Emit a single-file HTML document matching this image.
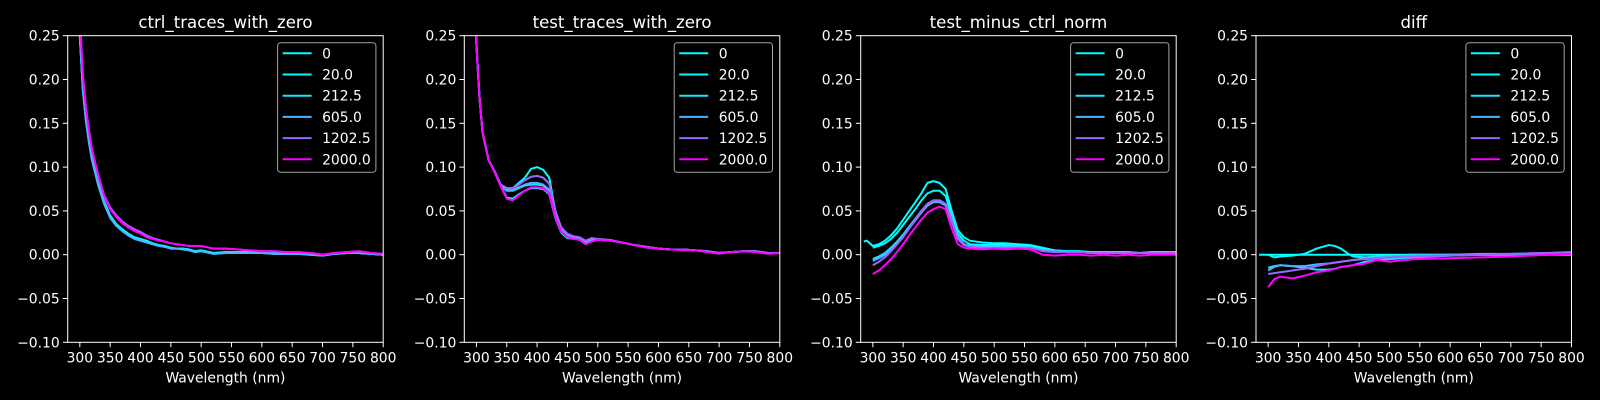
<!DOCTYPE html>
<html><head><meta charset="utf-8"><style>
html,body{margin:0;padding:0;background:#000;}
svg{display:block;font-family:"DejaVu Sans","Liberation Sans",sans-serif;}
</style></head><body>
<svg id="fig" width="1600" height="400" viewBox="0 0 1600 400" xmlns="http://www.w3.org/2000/svg">
<rect width="1600" height="400" fill="#000"/>
</svg>
<script>
const seriesLabels = ["0","20.0","212.5","605.0","1202.5","2000.0"];
const seriesColors = ["#00ffff","#03fcff","#1be4ff","#4db2ff","#9966ff","#ff00ff"];
const panelTitles = ["ctrl_traces_with_zero","test_traces_with_zero","test_minus_ctrl_norm","diff"];
const xTicks = [300,350,400,450,500,550,600,650,700,750,800];
const yTicks = [-0.10,-0.05,0.00,0.05,0.10,0.15,0.20,0.25];

const p1W = [295,300,305,310,315,320,330,340,350,360,370,380,390,400,410,420,430,440,450,460,470,480,490,500,520,540,560,580,600,620,640,660,680,700,720,740,760,780,800];
const p1S0 = [0.36,0.25,0.19,0.155,0.13,0.11,0.082,0.06,0.044,0.034,0.028,0.023,0.019,0.017,0.015,0.013,0.011,0.009,0.008,0.007,0.007,0.006,0.004,0.005,0.002,0.003,0.003,0.003,0.002,0.002,0.002,0.001,0.001,0.000,0.001,0.002,0.002,0.001,0.000];
const p1S1 = [0.36,0.25,0.19,0.156,0.131,0.111,0.083,0.061,0.045,0.035,0.029,0.024,0.020,0.018,0.016,0.013,0.011,0.010,0.008,0.007,0.007,0.006,0.004,0.005,0.002,0.003,0.003,0.003,0.002,0.002,0.002,0.001,0.001,0.000,0.001,0.002,0.002,0.001,0.000];
const p1S2 = [0.36,0.25,0.188,0.153,0.128,0.108,0.080,0.058,0.042,0.033,0.027,0.022,0.018,0.016,0.014,0.012,0.010,0.009,0.007,0.007,0.006,0.005,0.003,0.004,0.001,0.002,0.002,0.002,0.002,0.001,0.001,0.001,0.000,-0.001,0.001,0.002,0.002,0.001,0.000];
const p1S3 = [0.36,0.25,0.188,0.153,0.129,0.109,0.081,0.059,0.043,0.033,0.027,0.022,0.018,0.016,0.014,0.012,0.010,0.009,0.007,0.007,0.006,0.005,0.003,0.004,0.001,0.002,0.002,0.002,0.002,0.001,0.001,0.001,0.000,-0.001,0.001,0.002,0.002,0.001,0.000];
const p1S4 = [0.38,0.27,0.205,0.168,0.142,0.12,0.092,0.068,0.054,0.045,0.038,0.033,0.029,0.026,0.022,0.019,0.017,0.015,0.013,0.012,0.011,0.010,0.010,0.010,0.007,0.007,0.006,0.005,0.004,0.004,0.003,0.003,0.002,0.000,0.002,0.003,0.004,0.002,0.001];
const p1S5 = [0.38,0.27,0.205,0.168,0.142,0.12,0.091,0.067,0.052,0.043,0.036,0.031,0.027,0.024,0.020,0.018,0.016,0.015,0.013,0.012,0.011,0.010,0.010,0.010,0.007,0.007,0.006,0.005,0.004,0.004,0.003,0.003,0.002,0.000,0.002,0.003,0.004,0.002,0.001];

const p2W = [295,300,305,310,320,330,340,350,360,370,380,390,400,410,420,430,440,450,460,470,480,490,500,520,540,560,580,600,620,640,660,680,700,720,740,760,780,800];
const p2S0 = [0.36,0.24,0.18,0.14,0.108,0.095,0.080,0.076,0.076,0.082,0.088,0.098,0.100,0.097,0.088,0.050,0.030,0.022,0.019,0.017,0.012,0.016,0.017,0.016,0.014,0.011,0.009,0.007,0.006,0.006,0.005,0.004,0.002,0.003,0.004,0.004,0.002,0.002];
const p2S1 = [0.36,0.24,0.18,0.14,0.108,0.095,0.079,0.065,0.064,0.069,0.073,0.076,0.076,0.075,0.069,0.042,0.025,0.019,0.018,0.017,0.012,0.016,0.017,0.016,0.014,0.011,0.009,0.007,0.006,0.006,0.005,0.004,0.002,0.003,0.004,0.004,0.002,0.002];
const p2S2 = [0.36,0.24,0.18,0.14,0.108,0.095,0.080,0.073,0.073,0.076,0.079,0.080,0.080,0.079,0.073,0.046,0.028,0.021,0.019,0.018,0.014,0.017,0.018,0.016,0.014,0.011,0.009,0.007,0.006,0.006,0.005,0.004,0.002,0.003,0.004,0.004,0.002,0.002];
const p2S3 = [0.36,0.24,0.18,0.14,0.108,0.095,0.080,0.074,0.074,0.077,0.080,0.082,0.082,0.080,0.074,0.047,0.029,0.022,0.020,0.019,0.015,0.018,0.018,0.016,0.014,0.011,0.009,0.007,0.006,0.006,0.005,0.004,0.002,0.003,0.004,0.004,0.002,0.002];
const p2S4 = [0.36,0.24,0.18,0.14,0.108,0.095,0.080,0.076,0.076,0.080,0.085,0.089,0.090,0.088,0.081,0.050,0.031,0.024,0.021,0.020,0.016,0.019,0.018,0.017,0.014,0.011,0.009,0.007,0.006,0.006,0.005,0.004,0.002,0.003,0.004,0.004,0.002,0.002];
const p2S5 = [0.36,0.24,0.18,0.14,0.108,0.094,0.078,0.064,0.062,0.068,0.073,0.077,0.077,0.076,0.070,0.043,0.026,0.020,0.018,0.017,0.012,0.015,0.017,0.016,0.014,0.011,0.008,0.007,0.006,0.005,0.005,0.003,0.001,0.003,0.004,0.003,0.001,0.002];

const p3W = [285,290,300,310,320,330,340,350,360,370,380,390,400,410,420,430,440,450,460,480,500,520,540,560,580,600,620,640,660,680,700,720,740,760,780,800];
const p3S0 = [0.015,0.016,0.010,0.012,0.016,0.022,0.030,0.040,0.050,0.060,0.070,0.082,0.084,0.082,0.075,0.050,0.028,0.020,0.016,0.014,0.013,0.013,0.012,0.011,0.008,0.005,0.004,0.004,0.003,0.003,0.003,0.003,0.002,0.003,0.003,0.003];
const p3S1 = [null,null,0.008,0.010,0.013,0.018,0.025,0.034,0.043,0.052,0.062,0.070,0.073,0.073,0.067,0.045,0.024,0.016,0.012,0.011,0.011,0.011,0.010,0.010,0.007,0.005,0.004,0.004,0.003,0.003,0.003,0.003,0.002,0.003,0.003,0.003];
const p3S2 = [null,null,-0.005,-0.002,0.002,0.008,0.015,0.023,0.032,0.041,0.050,0.058,0.062,0.062,0.058,0.040,0.020,0.012,0.010,0.009,0.009,0.009,0.009,0.008,0.005,0.004,0.003,0.003,0.003,0.002,0.002,0.002,0.002,0.002,0.002,0.002];
const p3S3 = [null,null,-0.007,-0.004,0.000,0.006,0.013,0.021,0.030,0.039,0.048,0.056,0.060,0.060,0.056,0.038,0.018,0.011,0.009,0.008,0.008,0.008,0.008,0.008,0.005,0.004,0.003,0.003,0.002,0.002,0.002,0.002,0.002,0.002,0.002,0.002];
const p3S4 = [null,null,-0.012,-0.008,-0.003,0.004,0.012,0.020,0.030,0.040,0.050,0.058,0.062,0.062,0.058,0.040,0.018,0.011,0.009,0.008,0.008,0.008,0.008,0.008,0.004,0.003,0.003,0.003,0.002,0.002,0.002,0.002,0.002,0.002,0.002,0.002];
const p3S5 = [null,null,-0.022,-0.018,-0.012,-0.005,0.003,0.012,0.022,0.031,0.040,0.048,0.052,0.055,0.052,0.030,0.012,0.008,0.007,0.006,0.007,0.006,0.007,0.006,0.000,-0.001,0.000,0.000,-0.001,0.000,-0.001,0.000,-0.001,0.000,0.000,0.000];

const p4W = [285,300,310,320,340,360,380,400,410,420,430,440,460,480,500,540,600,650,700,760,800];
const p4S0 = [0,0,0,0,0,0,0,0,0,0,0,0,0,0,0,0,0,0,0,0,0];
const p4S1 = [null,0.000,-0.003,-0.002,-0.001,0.001,0.007,0.011,0.010,0.007,0.002,-0.002,-0.003,-0.002,-0.001,0.000,0.000,0.000,0.000,0.001,0.001];
const p4S2 = [null,-0.015,-0.013,-0.012,-0.013,-0.015,-0.017,-0.017,-0.016,-0.014,-0.013,-0.012,-0.008,-0.006,-0.005,-0.003,-0.001,0.000,0.000,0.001,0.002];
const p4S3 = [null,-0.018,-0.014,-0.012,-0.013,-0.013,-0.011,-0.010,-0.009,-0.008,-0.007,-0.006,-0.004,-0.003,-0.002,-0.001,0.000,0.001,0.001,0.002,0.003];
const p4S4 = [null,-0.022,-0.021,-0.020,-0.018,-0.016,-0.013,-0.010,-0.009,-0.008,-0.007,-0.006,-0.005,-0.004,-0.003,-0.002,-0.001,0.000,0.001,0.002,0.002];
const p4S5 = [null,-0.037,-0.028,-0.025,-0.027,-0.024,-0.020,-0.018,-0.016,-0.014,-0.013,-0.012,-0.010,-0.006,-0.008,-0.005,-0.004,-0.003,-0.002,0.000,0.001];

const panelW = [p1W,p2W,p3W,p4W];
const panelSeries = [
  [p1S0,p1S1,p1S2,p1S3,p1S4,p1S5],
  [p2S0,p2S1,p2S2,p2S3,p2S4,p2S5],
  [p3S0,p3S1,p3S2,p3S3,p3S4,p3S5],
  [p4S0,p4S1,p4S2,p4S3,p4S4,p4S5]
];

const NS = "http://www.w3.org/2000/svg";
const svg = document.getElementById('fig');
const lefts = [67.7,464.3,860.7,1256];
const AW = 315.5, TOP = 35.7, BOT = 342.3;
const XMIN = 280, XMAX = 800, YMIN = -0.10, YMAX = 0.25;
function mk(tag, attrs, parent){
  const e = document.createElementNS(NS, tag);
  for (const k in attrs) e.setAttribute(k, attrs[k]);
  (parent||svg).appendChild(e);
  return e;
}
function fmtY(v){ const s = Math.abs(v).toFixed(2); return (v < -1e-9 ? "\u2212" : "") + s; }

panelTitles.forEach((title, p) => {
  const L = lefts[p];
  const sx = w => L + (w - XMIN) / (XMAX - XMIN) * AW;
  const sy = v => BOT - (v - YMIN) / (YMAX - YMIN) * (BOT - TOP);
  const g = mk('g', {});
  
  
  const cp = mk('clipPath', {id: 'clip' + p}, g);
  mk('rect', {x: L, y: TOP, width: AW, height: BOT - TOP}, cp);

  const t = mk('text', {x: L + AW/2, y: 28, 'text-anchor': 'middle', fill: '#fff', 'font-size': '16.6'}, g);
  t.textContent = title;
  
  

  const ws = panelW[p];
  panelSeries[p].forEach((vals, s) => {
    let d = '';
    let pen = false;
    vals.forEach((v, i) => {
      if (v === null) { pen = false; return; }
      d += (pen ? 'L' : 'M') + sx(ws[i]).toFixed(2) + ' ' + sy(v).toFixed(2) + ' ';
      pen = true;
    });
    const path = mk('path', {d: d, fill: 'none', stroke: seriesColors[s], 'stroke-width': '2', 'stroke-linejoin': 'round', 'clip-path': 'url(#clip' + p + ')'}, g);
    
    
  });

  const fr = mk('rect', {x: L, y: TOP, width: AW, height: BOT - TOP, fill: 'none', stroke: '#fff', 'stroke-width': '1'}, g);
  
  

  xTicks.forEach(v => {
    const x = sx(v);
    mk('line', {x1: x, y1: BOT, x2: x, y2: BOT + 4.9, stroke: '#fff', 'stroke-width': '1'}, g);
    const tl = mk('text', {x: x, y: 362.5, 'text-anchor': 'middle', fill: '#fff', 'font-size': '13.9'}, g);
    tl.textContent = v;
    
    
  });
  yTicks.forEach(v => {
    const y = sy(v);
    mk('line', {x1: L - 4.9, y1: y, x2: L, y2: y, stroke: '#fff', 'stroke-width': '1'}, g);
    const tl = mk('text', {x: L - 8, y: y + 5, 'text-anchor': 'end', fill: '#fff', 'font-size': '13.9'}, g);
    tl.textContent = fmtY(v);
    
    
  });
  const xl = mk('text', {x: L + AW/2, y: 382.5, 'text-anchor': 'middle', fill: '#fff', 'font-size': '13.9'}, g);
  xl.textContent = 'Wavelength (nm)';
  
  

  const lg = mk('g', {}, g);
  
  
  const lx = L + AW - 105.6;
  mk('rect', {x: lx, y: 42.7, width: 98.3, height: 129.6, rx: 3, fill: '#000', 'fill-opacity': '0.8', stroke: '#cccccc', 'stroke-opacity': '0.8', 'stroke-width': '1'}, lg);
  seriesLabels.forEach((lab, s) => {
    const y = 53.3 + 21.2 * s;
    const ent = mk('g', {}, lg);
    
    
    mk('line', {x1: lx + 5, y1: y, x2: lx + 34, y2: y, stroke: seriesColors[s], 'stroke-width': '2'}, ent);
    const tx = mk('text', {x: lx + 44.5, y: y + 5, fill: '#fff', 'font-size': '13.9'}, ent);
    tx.textContent = lab;
  });
});
</script>
</body></html>
